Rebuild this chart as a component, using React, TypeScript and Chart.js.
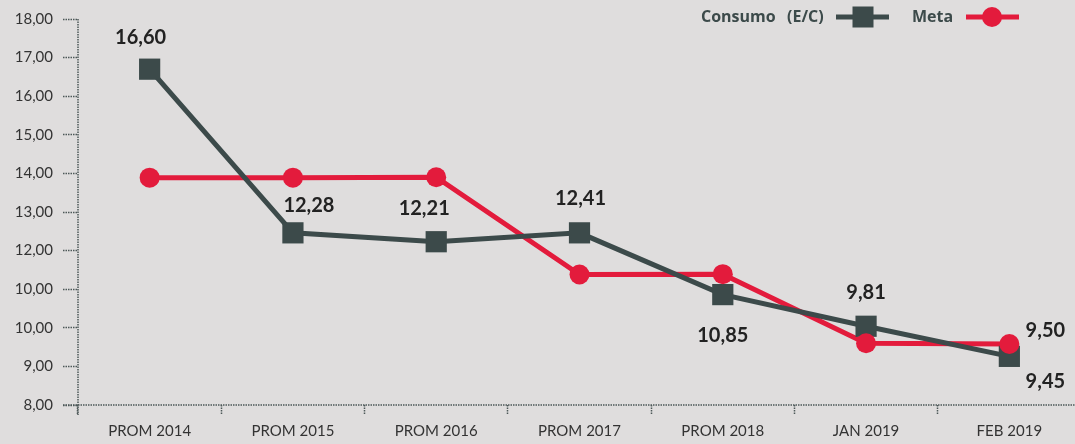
import React, { useEffect, useRef } from "react";
import { Chart, registerables } from "chart.js";

Chart.register(...registerables);

const categories = ["PROM 2014", "PROM 2015", "PROM 2016", "PROM 2017", "PROM 2018", "JAN 2019", "FEB 2019"];
const consumoValues = [16.7, 12.46, 12.23, 12.46, 10.86, 10.04, 9.26];
const metaValues = [13.89, 13.89, 13.9, 11.38, 11.39, 9.6, 9.58];
const consumoLabels = ["16,60", "12,28", "12,21", "12,41", "10,85", "9,81", "9,45"];
const metaLabels = [null, null, null, null, null, null, "9,50"];
const yTickLabels = ["8,00", "9,00", "10,00", "10,00", "12,00", "13,00", "14,00", "15,00", "16,00", "17,00", "18,00"];

// label placement offsets (style only)
const consumoLabelOffsets = [[-9, -32], [16, -27], [-12, -33], [1, -34], [0, 41], [0, -34], [36, 25]];
const metaLabelOffsets = [[0, 0], [0, 0], [0, 0], [0, 0], [0, 0], [0, 0], [36, -13]];

const BG = "#dfdddd";
const GREY = "#3c4a4a";
const RED = "#e31b3c";
const AXIS = "#4d5858";
const FONT = "Lato";
const LEGEND_FONT = "'Open Sans'";

export default function App() {
  const ref = useRef<HTMLCanvasElement | null>(null);

  useEffect(() => {
    document.body.style.margin = "0";
    document.body.style.overflow = "hidden";
    const canvas = ref.current!;

    const axisPlugin = {
      id: "axisLines",
      beforeDatasetsDraw(chart: any) {
        const { ctx, chartArea } = chart;
        ctx.save();
        ctx.strokeStyle = AXIS;
        ctx.lineWidth = 1.5;
        ctx.setLineDash([1.5, 1]);
        ctx.beginPath();
        ctx.moveTo(chartArea.left, chartArea.top);
        ctx.lineTo(chartArea.left, chartArea.bottom + 10);
        ctx.moveTo(chartArea.left - 15, chartArea.bottom);
        ctx.lineTo(chart.width, chartArea.bottom);
        ctx.stroke();
        ctx.restore();
      },
    };

    const labelPlugin = {
      id: "valueLabels",
      afterDatasetsDraw(chart: any) {
        const { ctx } = chart;
        ctx.save();
        ctx.font = `bold 20px ${FONT}`;
        ctx.fillStyle = "#222222";
        ctx.textAlign = "center";
        ctx.textBaseline = "middle";
        const cMeta = chart.getDatasetMeta(1);
        cMeta.data.forEach((pt: any, i: number) => {
          const t = consumoLabels[i];
          if (!t) return;
          ctx.fillText(t, pt.x + consumoLabelOffsets[i][0], pt.y + consumoLabelOffsets[i][1]);
        });
        const mMeta = chart.getDatasetMeta(2);
        mMeta.data.forEach((pt: any, i: number) => {
          const t = metaLabels[i];
          if (!t) return;
          ctx.fillText(t, pt.x + metaLabelOffsets[i][0], pt.y + metaLabelOffsets[i][1]);
        });
        ctx.restore();
      },
    };

    const legendPlugin = {
      id: "customLegend",
      afterDraw(chart: any) {
        const { ctx } = chart;
        const y = 17;
        ctx.save();
        ctx.font = `bold 16px ${LEGEND_FONT}`;
        ctx.fillStyle = GREY;
        ctx.textAlign = "left";
        ctx.textBaseline = "middle";
        ctx.fillText("Consumo", 701, y);
        ctx.fillText("(E/C)", 787, y);
        ctx.fillText("Meta", 912, y);
        ctx.lineWidth = 5;
        ctx.strokeStyle = GREY;
        ctx.beginPath();
        ctx.moveTo(836, y);
        ctx.lineTo(889, y);
        ctx.stroke();
        ctx.fillStyle = GREY;
        ctx.fillRect(852.5, y - 10.5, 21, 21);
        ctx.strokeStyle = RED;
        ctx.beginPath();
        ctx.moveTo(966, y);
        ctx.lineTo(1019, y);
        ctx.stroke();
        ctx.fillStyle = RED;
        ctx.beginPath();
        ctx.arc(992, y, 10, 0, Math.PI * 2);
        ctx.fill();
        ctx.restore();
      },
    };

    const chart = new Chart(canvas, {
      type: "line",
      data: {
        labels: categories,
        datasets: [
          {
            label: "Meta",
            data: metaValues,
            borderColor: RED,
            borderWidth: 5,
            pointRadius: 0,
            order: 2,
          },
          {
            label: "Consumo (E/C)",
            data: consumoValues,
            borderColor: GREY,
            borderWidth: 5,
            pointStyle: "rect",
            pointRadius: 15,
            pointBackgroundColor: GREY,
            pointBorderWidth: 0,
            order: 1,
          },
          {
            label: "Meta puntos",
            data: metaValues,
            showLine: false,
            pointStyle: "circle",
            pointRadius: 10,
            pointBackgroundColor: RED,
            pointBorderWidth: 0,
            order: 0,
          },
        ],
      },
      options: {
        animation: false,
        responsive: false,
        devicePixelRatio: 1,
        layout: { padding: { top: 17, right: 1, left: 0, bottom: 0 } },
        plugins: { legend: { display: false }, tooltip: { enabled: false } },
        scales: {
          x: {
            offset: true,
            border: { display: false },
            grid: {
              offset: true,
              drawOnChartArea: false,
              drawTicks: true,
              tickLength: 10,
              tickColor: AXIS,
              tickWidth: 1.5,
              tickBorderDash: [1.5, 1],
            },
            ticks: {
              color: "#333333",
              font: { family: FONT, size: 15 },
              padding: 7,
              maxRotation: 0,
              autoSkip: false,
            },
            afterFit(scale: any) {
              scale.height = 39;
            },
          },
          y: {
            min: 8,
            max: 18,
            border: { display: false },
            grid: {
              drawOnChartArea: false,
              tickLength: 15,
              tickColor: AXIS,
              tickWidth: 1.5,
              tickBorderDash: [1.5, 1],
            },
            ticks: {
              stepSize: 1,
              color: "#333333",
              font: { family: FONT, size: 15 },
              padding: 10,
              callback: (_v: any, i: number) => yTickLabels[i],
            },
            afterFit(scale: any) {
              scale.width = 78;
            },
          },
        },
      },
      plugins: [axisPlugin, labelPlugin, legendPlugin],
    });
    return () => chart.destroy();
  }, []);

  return (
    <div style={{ position: "fixed", left: 0, top: 0, width: 1075, height: 444, overflow: "hidden", background: BG }}>
      <canvas ref={ref} width={1096} height={444} style={{ display: "block", width: 1096, height: 444 }} />
    </div>
  );
}
